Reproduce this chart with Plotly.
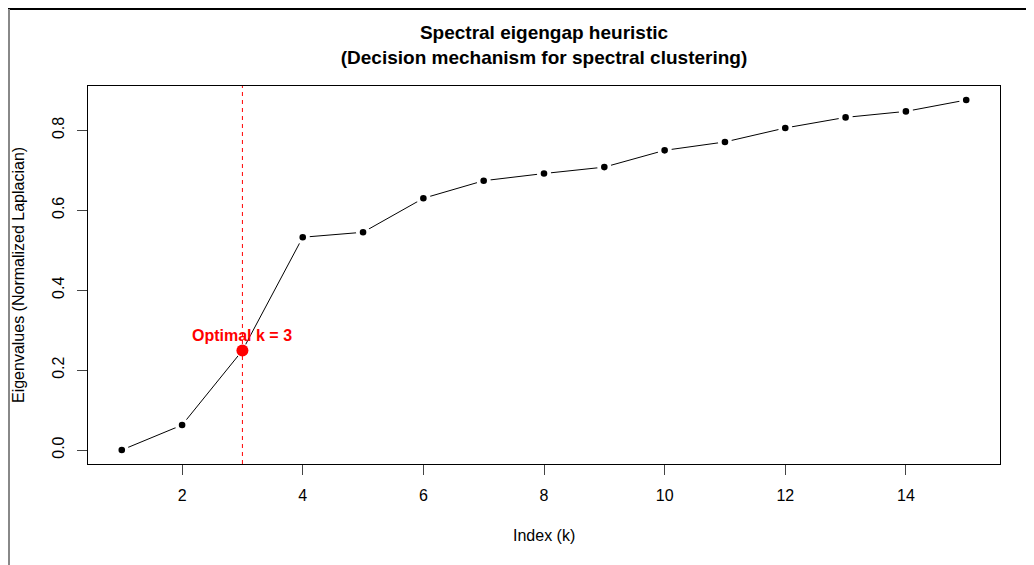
import plotly.graph_objects as go

k_values = list(range(1, 16))
eigenvalues = [0.0, 0.0625, 0.249, 0.5325, 0.545, 0.63, 0.674, 0.692, 0.708,
               0.75, 0.771, 0.806, 0.8325, 0.8475, 0.876]
optimal_k = 3
x_ticks = [2, 4, 6, 8, 10, 12, 14]
y_ticks = [0.0, 0.2, 0.4, 0.6, 0.8]
y_tick_labels = ["0.0", "0.2", "0.4", "0.6", "0.8"]

FONT = "Liberation Sans, Arial, Helvetica, sans-serif"
OFF = 8  # page body margin
W, H = 1034 - OFF, 565 - OFF
# plot box in page pixels: x 88..1000, y 86..464
L, T = 88 - OFF, 86 - OFF
R = W - (1000 - OFF)
B = H - (464 - OFF)
pw, ph = W - L - R, H - T - B

xmin, xmax = min(k_values), max(k_values)
xr = [xmin - 0.04 * (xmax - xmin), xmax + 0.04 * (xmax - xmin)]
ymin, ymax = min(eigenvalues), max(eigenvalues)
yr = [ymin - 0.04 * (ymax - ymin), ymax + 0.04 * (ymax - ymin)]

def px_x(p):
    # page pixel -> paper x
    return (p - OFF - L) / pw

def px_y(p):
    # page pixel -> paper y
    return (H - B - (p - OFF)) / ph

fig = go.Figure()

fig.add_trace(go.Scatter(
    x=k_values, y=eigenvalues, mode="lines+markers",
    line=dict(color="black", width=1),
    marker=dict(color="black", size=10.4, line=dict(color="white", width=3.8)),
    showlegend=False, hoverinfo="skip"))

fig.add_shape(type="line", xref="x", yref="paper", x0=optimal_k, x1=optimal_k,
              y0=0, y1=1, line=dict(color="red", width=1, dash="4px,4px"),
              layer="above")

opt_val = eigenvalues[k_values.index(optimal_k)]
fig.add_trace(go.Scatter(
    x=[optimal_k], y=[opt_val], mode="markers",
    marker=dict(color="red", size=12, line=dict(width=0)),
    showlegend=False, hoverinfo="skip"))

fig.add_annotation(x=optimal_k, y=opt_val, xref="x", yref="y",
                   text="<b>Optimal k = 3</b>", showarrow=False,
                   yshift=15, font=dict(family=FONT, size=16, color="red"))

# axis titles
fig.add_annotation(x=0.5, y=px_y(535), xref="paper", yref="paper",
                   text="Index (k)", showarrow=False, yanchor="middle",
                   font=dict(family=FONT, size=16, color="black"))
fig.add_annotation(x=px_x(18), y=0.5, xref="paper", yref="paper",
                   text="Eigenvalues (Normalized Laplacian)", showarrow=False,
                   textangle=-90, xanchor="center", yanchor="middle",
                   font=dict(family=FONT, size=16, color="black"))

# outer frame lines (as far up/left as the figure allows)
fig.add_shape(type="line", xref="paper", yref="paper",
              x0=px_x(OFF), x1=px_x(1040), y0=px_y(OFF + 1), y1=px_y(OFF + 1),
              line=dict(color="black", width=2))
fig.add_shape(type="line", xref="paper", yref="paper",
              x0=px_x(OFF + 1), x1=px_x(OFF + 1), y0=px_y(OFF + 1), y1=px_y(570),
              line=dict(color="#888888", width=2))

fig.update_layout(
    width=W, height=H,
    margin=dict(l=L, r=R, t=T, b=B, pad=0),
    paper_bgcolor="white", plot_bgcolor="white",
    font=dict(family=FONT, size=16, color="black"),
    title=dict(
        text="<b>Spectral eigengap heuristic<br>(Decision mechanism for spectral clustering)</b>",
        x=0.5, xref="paper", xanchor="center",
        y=1 - 31 / H, yref="container", yanchor="middle",
        font=dict(family=FONT, size=19, color="black")),
    xaxis=dict(range=xr, tickvals=x_ticks, ticks="outside", ticklen=10,
               tickcolor="#444", showgrid=False, zeroline=False,
               showline=True, linecolor="black", linewidth=1, mirror=True,
               tickfont=dict(family=FONT, size=16), ticklabelstandoff=7),
    yaxis=dict(range=yr, tickvals=y_ticks, ticktext=y_tick_labels,
               ticks="outside", ticklen=10, tickcolor="#444",
               showgrid=False, zeroline=False, showline=True,
               linecolor="black", linewidth=1, mirror=True, tickangle=-90,
               tickfont=dict(family=FONT, size=16), ticklabelstandoff=7),
)

fig.write_html("out.html")
